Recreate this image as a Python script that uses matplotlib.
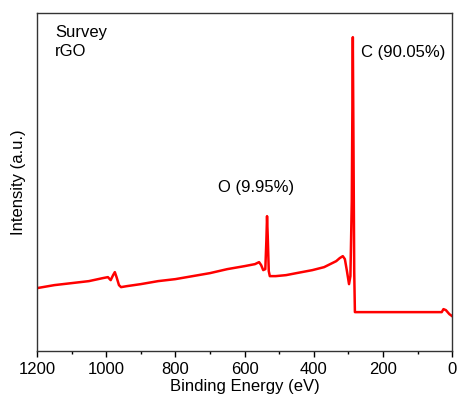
import numpy as np
import matplotlib.pyplot as plt
from matplotlib.ticker import MultipleLocator

plt.rcParams['font.family'] = ['Liberation Sans', 'DejaVu Sans']

# binding energy (eV) and intensity (a.u.)
energy = [1200, 1150, 1100, 1050, 1010, 995, 987, 980, 975, 970, 963, 957,
          940, 900, 850, 800, 750, 700, 650, 600, 570, 558, 552, 546, 540,
          537, 535, 533, 530, 527, 510, 480, 450, 404, 370, 335, 325, 316,
          310, 304, 298, 294, 290, 287, 285, 283, 281, 270, 200, 150, 100,
          50, 30, 25, 18, 8, 0]
intensity = [63, 66, 68, 70, 73, 74, 71, 76, 79, 74, 66, 64,
             65, 67, 70, 72, 75, 78, 82, 85, 87, 89, 86, 81, 82,
             110, 135, 115, 80, 75, 75, 76, 78, 81, 84, 90, 93, 95,
             92, 80, 67, 75, 150, 314, 200, 80, 39, 39, 39, 39, 39,
             39, 39, 42, 41, 37, 35]

x_ticks = [1200, 1000, 800, 600, 400, 200, 0]
fs = 12

fig = plt.figure(figsize=(4.59, 3.99), dpi=100)
ax = fig.add_axes([0.0806, 0.120, 0.9044, 0.847])
ax.plot(energy, intensity, color='#ff0000', linewidth=1.8)

ax.set_xlim(1200, 0)
ax.set_ylim(0, 338)
ax.set_xticks(x_ticks)
ax.xaxis.set_minor_locator(MultipleLocator(100))
ax.set_yticks([])
ax.tick_params(axis='x', which='major', direction='out', length=4, width=1,
               labelsize=fs, top=False, pad=4)
ax.tick_params(axis='x', which='minor', direction='out', length=2.5, width=1,
               top=False)
for s in ax.spines.values():
    s.set_linewidth(1)
    s.set_color('#333333')

ax.set_xlabel('Binding Energy (eV)', fontsize=fs, labelpad=1)
ax.set_ylabel('Intensity (a.u.)', fontsize=fs, labelpad=8)

ax.text(0.044, 0.965, 'Survey\nrGO', transform=ax.transAxes, fontsize=fs,
        va='top', ha='left', linespacing=1.3)
ax.text(567, 164, 'O (9.95%)', fontsize=fs, ha='center', va='center')
ax.text(262, 299, 'C (90.05%)', fontsize=fs, ha='left', va='center')

plt.savefig('out.png', dpi=100)
